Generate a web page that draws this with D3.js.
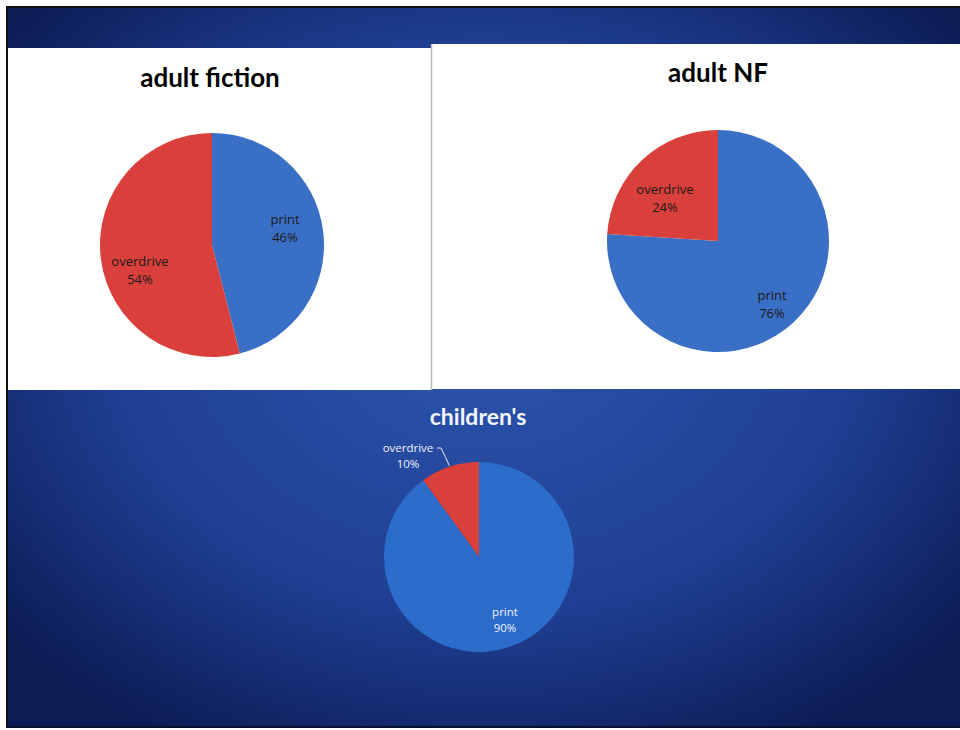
<!DOCTYPE html>
<html>
<head>
<meta charset="utf-8">
<script src="https://cdn.jsdelivr.net/npm/d3@7"></script>
<style>
  body { margin: 0; background: #fff; }
  svg { display: block; font-family: Lato, "Open Sans", sans-serif; }
</style>
</head>
<body>
<svg id="chart" width="960" height="730"></svg>
<script>
// slice order: print first (clockwise from 12 o'clock), then overdrive
const categories = ["print", "overdrive"];
const titles = ["adult fiction", "adult NF", "children's"];
const fictionValues = [46, 54];
const nfValues = [76, 24];
const childrenValues = [90, 10];

const svg = d3.select("#chart");

// slide background gradient
const defs = svg.append("defs");
const grad = defs.append("radialGradient")
    .attr("id", "bg")
    .attr("cx", "50%").attr("cy", "45%").attr("r", "65%");
grad.append("stop").attr("offset", "0%").attr("stop-color", "#2d55ad");
grad.append("stop").attr("offset", "60%").attr("stop-color", "#1f3f93");
grad.append("stop").attr("offset", "100%").attr("stop-color", "#0c1c55");

svg.append("rect")
    .attr("x", 6).attr("y", 6)
    .attr("width", 954).attr("height", 722)
    .attr("fill", "url(#bg)");
svg.append("line")
    .attr("x1", 6).attr("x2", 960).attr("y1", 7).attr("y2", 7)
    .attr("stroke", "#111").attr("stroke-width", 2);
svg.append("line")
    .attr("x1", 7).attr("x2", 7).attr("y1", 6).attr("y2", 728)
    .attr("stroke", "#111").attr("stroke-width", 2);
svg.append("line")
    .attr("x1", 6).attr("x2", 960).attr("y1", 727).attr("y2", 727)
    .attr("stroke", "#0a1030").attr("stroke-width", 2);

// two white chart panels on top
svg.append("rect").attr("x", 8).attr("y", 48).attr("width", 423).attr("height", 342).attr("fill", "#fff");
svg.append("rect").attr("x", 432).attr("y", 44).attr("width", 528).attr("height", 345).attr("fill", "#fff");
svg.append("line")
    .attr("x1", 431.5).attr("x2", 431.5).attr("y1", 44).attr("y2", 390)
    .attr("stroke", "#bbb").attr("stroke-width", 1.5);

const color = d3.scaleOrdinal().domain(categories).range(["#3a6fc6", "#d9403b"]);

const pie = d3.pie().sort(null).value(d => d.value);

// labels: one [x, y] per category, same order as categories
function drawPie(values, title, opts) {
    const data = categories.map((c, i) => ({ name: c, value: values[i] }));
    const arcs = pie(data);
    const arc = d3.arc().innerRadius(0).outerRadius(opts.r);

    const g = svg.append("g").attr("transform", `translate(${opts.cx}, ${opts.cy})`);
    g.selectAll("path")
        .data(arcs)
        .join("path")
        .attr("d", arc)
        .attr("fill", d => d.data.name === "print" && opts.printColor ? opts.printColor : color(d.data.name));

    svg.append("text")
        .attr("x", opts.tx).attr("y", opts.ty)
        .attr("text-anchor", "middle")
        .attr("font-size", opts.titleSize)
        .attr("font-weight", "bold")
        .attr("fill", opts.textColor)
        .text(title);

    arcs.forEach((a, i) => {
        const lp = opts.labels[i];
        const t = svg.append("text")
            .attr("text-anchor", "middle")
            .attr("font-size", opts.labelSize)
            .attr("fill", opts.labelColor)
            .attr("font-family", "'Open Sans', sans-serif");
        t.append("tspan").attr("x", lp[0]).attr("y", lp[1]).text(a.data.name);
        t.append("tspan").attr("x", lp[0]).attr("y", lp[1] + opts.labelSize * 1.35)
            .text(a.data.value + "%");
    });
    return { g, arc, arcs };
}

drawPie(fictionValues, titles[0], {
    cx: 212, cy: 245, r: 112, tx: 210, ty: 87, titleSize: 26,
    textColor: "#000", labelColor: "#1a1a1a", labelSize: 13,
    labels: [[285, 224], [140, 266]]
});

drawPie(nfValues, titles[1], {
    cx: 718, cy: 241, r: 111, tx: 718, ty: 82, titleSize: 26,
    textColor: "#000", labelColor: "#1a1a1a", labelSize: 13,
    labels: [[772, 300], [665, 194]]
});

const kids = drawPie(childrenValues, titles[2], {
    cx: 479, cy: 557, r: 95, tx: 478, ty: 425, titleSize: 23,
    textColor: "#f2f5ff", labelColor: "#eef2ff", labelSize: 11.5,
    printColor: "#2c6ccb",
    labels: [[505, 616], [408, 452]]
});

// leader line from the overdrive label to its slice
const od = kids.arcs[1];
const mid = (od.startAngle + od.endAngle) / 2;
const edge = [479 + Math.sin(mid) * 96, 557 - Math.cos(mid) * 96];
svg.append("path")
    .attr("d", `M437,448 L441,448 Q446,458 ${edge[0]},${edge[1]}`)
    .attr("fill", "none")
    .attr("stroke", "#e8ecf8")
    .attr("stroke-width", 1);
</script>
</body>
</html>
